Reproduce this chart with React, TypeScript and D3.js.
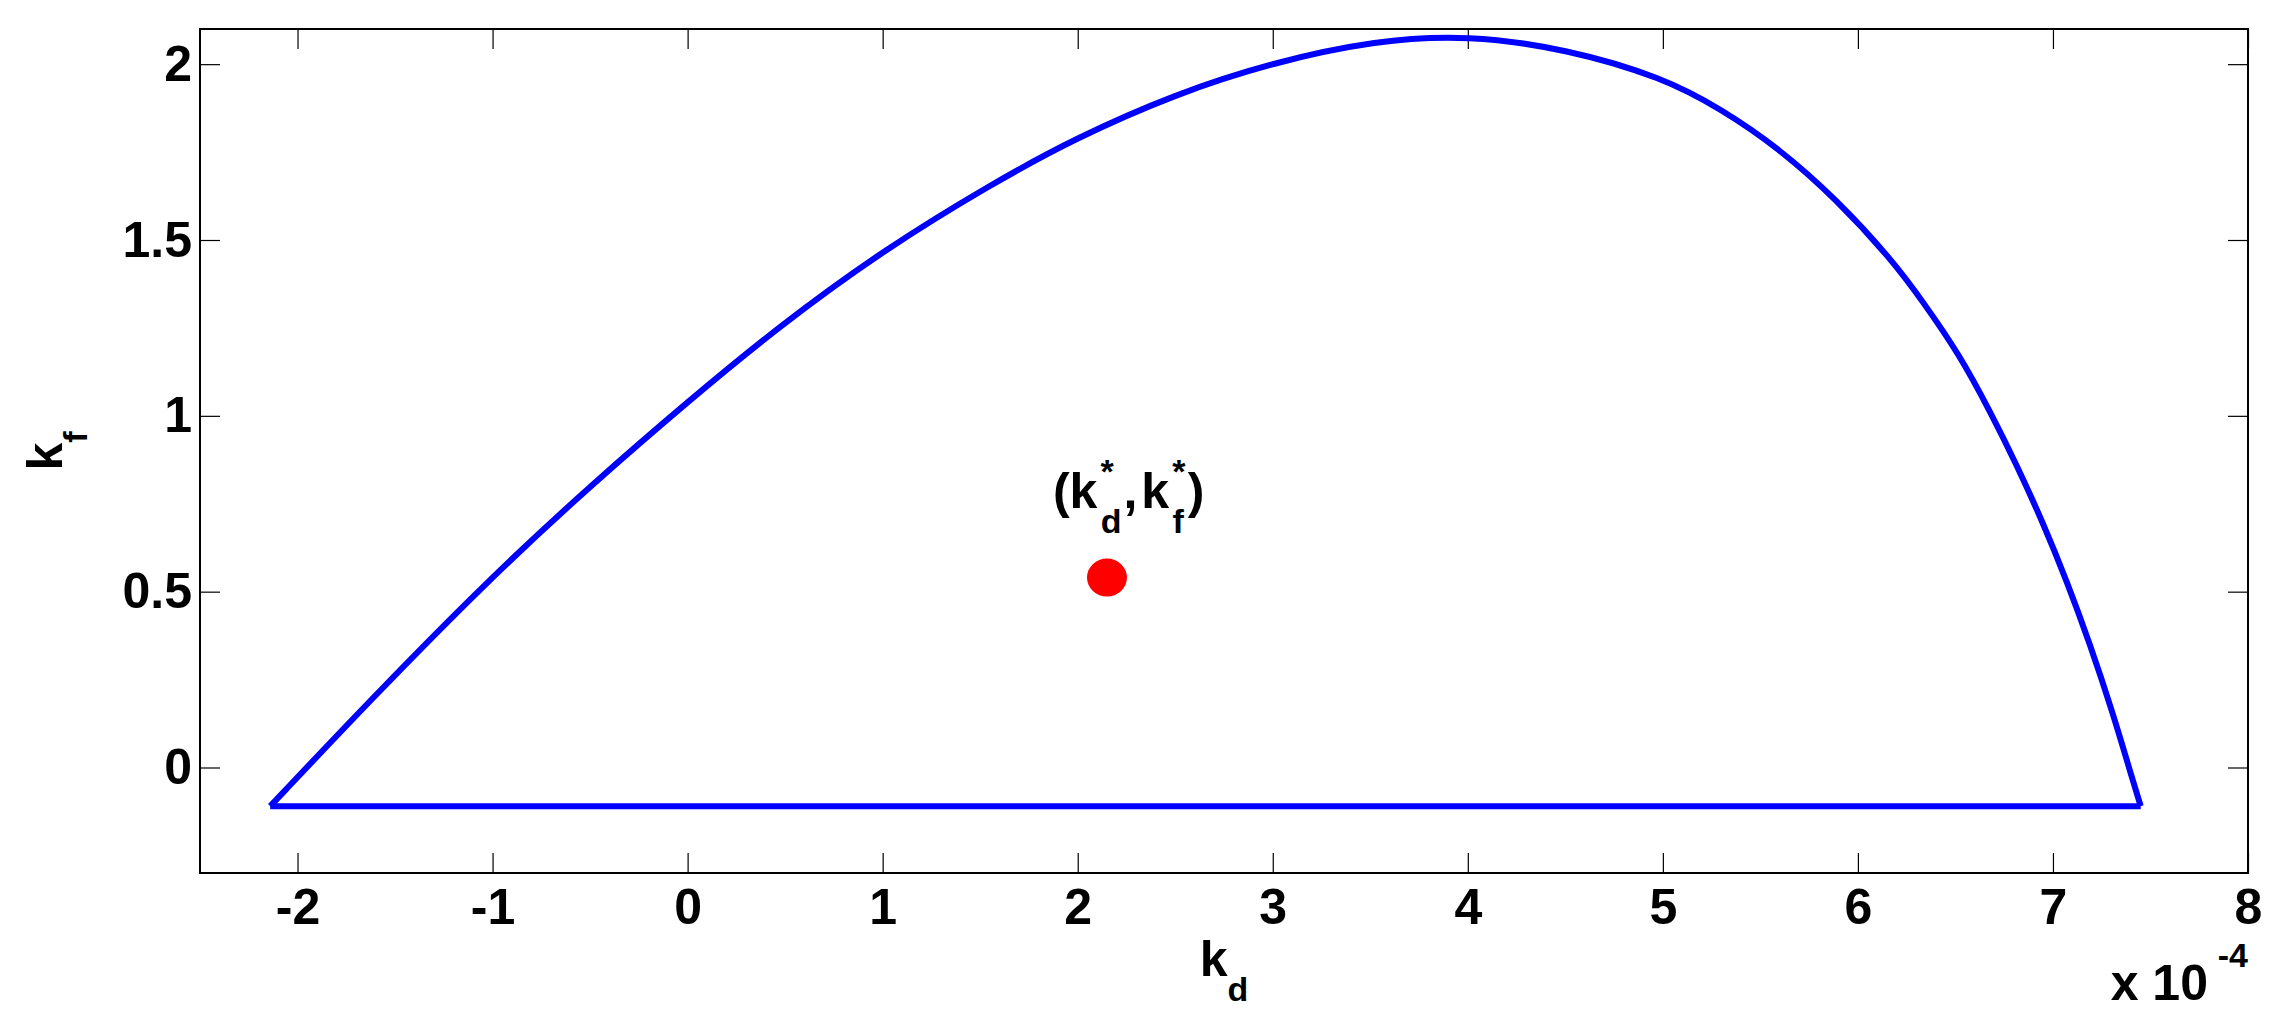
import React, { useRef, useEffect } from 'react';
import * as d3 from 'd3';

// kd values are in units of 1e-4 (axis shows "x 10^-4")
const kdCurve = [-2.14, -1.63, -1.01, -0.48, 0.0, 0.47, 1.0, 1.56, 1.99, 2.5, 3.0, 3.53, 4.0, 4.51, 5.0, 5.3, 5.59, 5.89, 6.18, 6.33, 6.52, 6.68, 6.81, 6.95, 7.07, 7.19, 7.31, 7.4, 7.45];
const kfCurve = [-0.11, 0.19, 0.54, 0.81, 1.04, 1.255, 1.47, 1.66, 1.79, 1.915, 2.005, 2.068, 2.083, 2.043, 1.962, 1.872, 1.763, 1.616, 1.44, 1.327, 1.175, 1.01, 0.865, 0.695, 0.531, 0.351, 0.15, -0.02, -0.11];
const kdBase = [7.45, -2.14];
const kfBase = [-0.11, -0.11];
const kdStar = 2.15;
const kfStar = 0.54;

const xTicks = [-2, -1, 0, 1, 2, 3, 4, 5, 6, 7, 8];
const yTicks = [0, 0.5, 1, 1.5, 2];
const xDomain = [-2.5, 8];
const yDomain = [-0.3, 2.1];

const W = 2284;
const H = 1026;
const margin = { top: 29, right: 36, bottom: 153, left: 200 };
const FONT = '"Liberation Sans", Arial, Helvetica, sans-serif';

const App = () => {
  const svgRef = useRef(null);

  useEffect(() => {
    const svg = d3.select(svgRef.current);
    svg.selectAll('*').remove();

    const width = W - margin.left - margin.right;
    const height = H - margin.top - margin.bottom;

    const x = d3.scaleLinear().domain(xDomain).range([margin.left, margin.left + width]);
    const y = d3.scaleLinear().domain(yDomain).range([margin.top + height, margin.top]);

    svg.append('rect')
      .attr('width', W).attr('height', H).attr('fill', '#fff');

    // ticks, inward on all four sides
    const styleAxis = (g) => {
      g.select('.domain').remove();
      g.selectAll('.tick line').attr('stroke', '#000').attr('stroke-width', 1.2);
      g.selectAll('.tick text')
        .attr('fill', '#000')
        .style('font-family', FONT)
        .style('font-weight', 'bold')
        .style('font-size', '50px');
    };

    svg.append('g')
      .attr('transform', `translate(0,${margin.top + height})`)
      .call(d3.axisBottom(x).tickValues(xTicks).tickSizeInner(-20).tickSizeOuter(0).tickPadding(15).tickFormat(d => String(d)))
      .call(styleAxis);

    svg.append('g')
      .attr('transform', `translate(0,${margin.top})`)
      .call(d3.axisTop(x).tickValues(xTicks).tickSizeInner(-20).tickSizeOuter(0).tickFormat(() => ''))
      .call(styleAxis);

    svg.append('g')
      .attr('transform', `translate(${margin.left},0)`)
      .call(d3.axisLeft(y).tickValues(yTicks).tickSizeInner(-20).tickSizeOuter(0).tickPadding(8).tickFormat(d => String(d)))
      .call(styleAxis);

    svg.append('g')
      .attr('transform', `translate(${margin.left + width},0)`)
      .call(d3.axisRight(y).tickValues(yTicks).tickSizeInner(-20).tickSizeOuter(0).tickFormat(() => ''))
      .call(styleAxis);

    // frame
    svg.append('rect')
      .attr('x', margin.left).attr('y', margin.top)
      .attr('width', width).attr('height', height)
      .attr('fill', 'none').attr('stroke', '#000').attr('stroke-width', 2);

    // boundary of the region
    const arc = d3.line()
      .x(d => x(d[0]))
      .y(d => y(d[1]))
      .curve(d3.curveBasis);
    const base = d3.line()
      .x(d => x(d[0]))
      .y(d => y(d[1]));

    svg.append('path')
      .datum(kdCurve.map((v, i) => [v, kfCurve[i]]))
      .attr('d', arc)
      .attr('fill', 'none')
      .attr('stroke', '#0000ff')
      .attr('stroke-width', 6);

    svg.append('path')
      .datum(kdBase.map((v, i) => [v, kfBase[i]]))
      .attr('d', base)
      .attr('fill', 'none')
      .attr('stroke', '#0000ff')
      .attr('stroke-width', 6);

    // optimal point
    svg.append('ellipse')
      .attr('cx', x(kdStar)).attr('cy', y(kfStar))
      .attr('rx', 20).attr('ry', 19)
      .attr('fill', '#ff0000');

    // annotation (k*_d, k*_f)
    const ann = svg.append('text')
      .attr('x', x(kdStar) - 54)
      .attr('y', y(kfStar) - 70)
      .attr('fill', '#000')
      .style('font-family', FONT)
      .style('font-weight', 'bold')
      .style('font-size', '50px');
    ann.append('tspan').text('(k');
    ann.append('tspan').attr('dx', 3).attr('dy', -25).style('font-size', '34px').text('*');
    ann.append('tspan').attr('dx', -13).attr('dy', 50).style('font-size', '34px').text('d');
    ann.append('tspan').attr('dx', 2).attr('dy', -25).text(',');
    ann.append('tspan').attr('dx', 4).text('k');
    ann.append('tspan').attr('dx', 3).attr('dy', -25).style('font-size', '34px').text('*');
    ann.append('tspan').attr('dx', -13).attr('dy', 50).style('font-size', '34px').text('f');
    ann.append('tspan').attr('dx', 4).attr('dy', -25).text(')');

    // x label
    const xl = svg.append('text')
      .attr('x', margin.left + width / 2)
      .attr('y', 976)
      .attr('text-anchor', 'middle')
      .attr('fill', '#000')
      .style('font-family', FONT)
      .style('font-weight', 'bold')
      .style('font-size', '50px');
    xl.append('tspan').text('k');
    xl.append('tspan').attr('dy', 25).style('font-size', '34px').text('d');

    // y label
    const yl = svg.append('text')
      .attr('transform', `translate(62,${margin.top + height / 2}) rotate(-90)`)
      .attr('text-anchor', 'middle')
      .attr('fill', '#000')
      .style('font-family', FONT)
      .style('font-weight', 'bold')
      .style('font-size', '50px');
    yl.append('tspan').text('k');
    yl.append('tspan').attr('dy', 25).style('font-size', '34px').text('f');

    // exponent
    svg.append('text')
      .attr('x', 2208).attr('y', 1000)
      .attr('text-anchor', 'end')
      .attr('fill', '#000')
      .style('font-family', FONT)
      .style('font-weight', 'bold')
      .style('font-size', '50px')
      .text('x 10');
    svg.append('text')
      .attr('x', margin.left + width).attr('y', 967)
      .attr('text-anchor', 'end')
      .attr('fill', '#000')
      .style('font-family', FONT)
      .style('font-weight', 'bold')
      .style('font-size', '34px')
      .text('-4');
  }, []);

  return (
    <svg
      ref={svgRef}
      width={W}
      height={H}
      style={{ position: 'absolute', left: 0, top: 0, display: 'block' }}
    />
  );
};

export default App;
